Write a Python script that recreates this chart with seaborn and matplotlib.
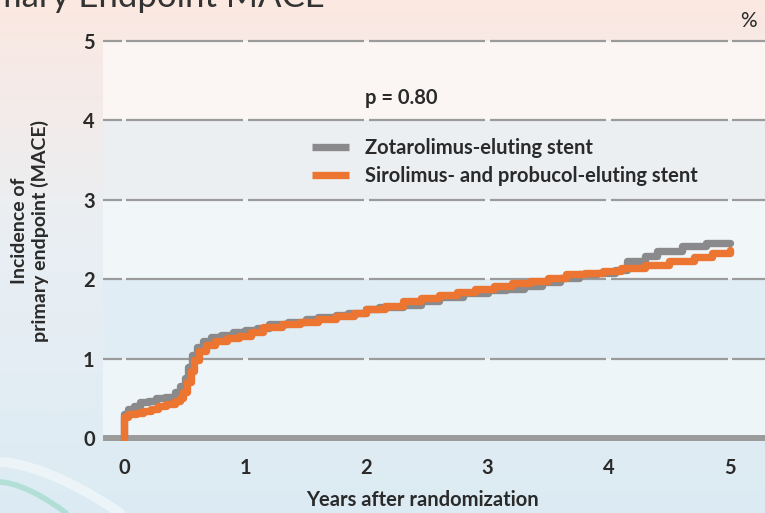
import matplotlib.pyplot as plt
import seaborn as sns
import numpy as np
from matplotlib.lines import Line2D
from matplotlib.colors import to_rgb

# --- DATOS ---
anos_zota = [0, 0, 0.03, 0.08, 0.13, 0.2, 0.26, 0.34, 0.42, 0.46, 0.5, 0.53, 0.56, 0.6,
             0.65, 0.72, 0.8, 0.9, 1.0, 1.1, 1.2, 1.35, 1.5, 1.6, 1.75, 1.85, 2.0, 2.1,
             2.3, 2.45, 2.6, 2.8, 3.0, 3.15, 3.3, 3.45, 3.6, 3.75, 3.9, 4.05, 4.15, 4.3,
             4.4, 4.6, 4.8, 5.0]
mace_zota = [0, 0.30, 0.36, 0.40, 0.45, 0.47, 0.50, 0.52, 0.58, 0.66, 0.76, 0.90, 1.05,
             1.15, 1.22, 1.27, 1.30, 1.33, 1.36, 1.39, 1.43, 1.46, 1.50, 1.52, 1.55, 1.58,
             1.62, 1.65, 1.68, 1.73, 1.77, 1.82, 1.86, 1.88, 1.92, 1.96, 2.02, 2.06, 2.08,
             2.12, 2.23, 2.29, 2.36, 2.42, 2.45, 2.45]

anos_siro = [0, 0, 0.03, 0.1, 0.16, 0.22, 0.28, 0.35, 0.42, 0.46, 0.49, 0.52, 0.55, 0.58,
             0.62, 0.68, 0.75, 0.85, 0.95, 1.05, 1.15, 1.3, 1.45, 1.6, 1.75, 1.9, 2.0, 2.15,
             2.3, 2.45, 2.6, 2.75, 2.9, 3.05, 3.2, 3.35, 3.5, 3.65, 3.8, 3.95, 4.1, 4.3,
             4.5, 4.7, 4.85, 5.0]
mace_siro = [0, 0.26, 0.30, 0.32, 0.34, 0.37, 0.40, 0.43, 0.46, 0.50, 0.58, 0.70, 0.84,
             0.98, 1.10, 1.17, 1.22, 1.26, 1.29, 1.33, 1.40, 1.43, 1.46, 1.50, 1.54, 1.58,
             1.62, 1.66, 1.72, 1.76, 1.80, 1.84, 1.88, 1.92, 1.95, 1.98, 2.02, 2.06, 2.08,
             2.10, 2.14, 2.18, 2.23, 2.28, 2.33, 2.37]

ticks_x = [0, 1, 2, 3, 4, 5]
ticks_y = [0, 1, 2, 3, 4, 5]
etiquetas = ["Zotarolimus-eluting stent", "Sirolimus- and probucol-eluting stent"]

# --- ESTILO ---
GRIS = "#8a8a8c"
NARANJA = "#ec7531"
TEXTO = "#2a2a2a"
REJILLA = "#9b9b9b"
BANDAS = ["#eef5f9", "#e1edf4", "#f1f6f9", "#eceff2", "#fbf6f4"]

sns.set_style("white")
plt.rcParams['font.family'] = ['Lato', 'DejaVu Sans']

W, H = 765, 513
fig = plt.figure(figsize=(W / 100, H / 100), dpi=100)

# fondo degradado (rosa arriba, azul abajo)
bg = fig.add_axes([0, 0, 1, 1], zorder=-10)
pos = [0, 0.45, 1]
cols = np.array([to_rgb(c) for c in ["#fbe8e1", "#eaeff3", "#dcebf3"]])
yy = np.linspace(0, 1, 256)
grad = np.stack([np.interp(yy, pos, cols[:, i]) for i in range(3)], axis=-1)
bg.imshow(grad[:, None, :], aspect='auto', extent=[0, W, H, 0])
xs = np.linspace(0, 120, 50)
bg.plot(xs, 462 + 51 * (xs / 120) ** 1.6, color="#ffffff", lw=7, alpha=0.45)
bg.plot(xs * 0.55, 482 + 31 * (xs / 120) ** 1.6, color="#8fd6bf", lw=4, alpha=0.55)
bg.set_xlim(0, W)
bg.set_ylim(H, 0)
bg.axis('off')

# ejes principales
ax = fig.add_axes([103 / W, 72 / H, 1 - 103 / W, 411 / H])
ax.patch.set_alpha(0)
ax.set_xlim(-21 / 121.2, 641 / 121.2)
ax.set_ylim(-3 / 79.4, 408 / 79.4)

for i, c in enumerate(BANDAS):
    ax.axhspan(i, i + 1, color=c, lw=0, zorder=0)

# rejilla con cortes solo en cada marca del eje x
x0, x1 = ax.get_xlim()
segmentos = [(x0, ticks_x[0] - 0.02)]
segmentos += [(a + 0.02, b - 0.02) for a, b in zip(ticks_x[:-1], ticks_x[1:])]
segmentos += [(ticks_x[-1] + 0.02, x1)]
for yv in ticks_y[1:]:
    for a, b in segmentos:
        ax.hlines(yv, a, b, color=REJILLA, lw=1.6, zorder=1)
ax.axhline(0, color=REJILLA, lw=5, zorder=2)

sns.lineplot(x=anos_zota, y=mace_zota, estimator=None, sort=False, drawstyle='steps-post',
             color=GRIS, lw=5.3, ax=ax, zorder=3)
sns.lineplot(x=anos_siro, y=mace_siro, estimator=None, sort=False, drawstyle='steps-post',
             color=NARANJA, lw=5.3, ax=ax, zorder=4)

sns.despine(ax=ax, left=True, bottom=True)
ax.set_xticks(ticks_x)
ax.set_yticks(ticks_y)
ax.tick_params(axis='x', length=8, width=1.2, color=REJILLA, pad=4, labelsize=14.5,
               labelcolor=TEXTO)
ax.tick_params(axis='y', length=0, pad=6, labelsize=14.5, labelcolor=TEXTO)
for lab in ax.get_xticklabels() + ax.get_yticklabels():
    lab.set_fontweight('bold')

ax.set_xlabel("Years after randomization", fontsize=14.5, weight='bold', color=TEXTO)
ax.xaxis.set_label_coords((422 - 103) / 662, (441 - 500) / 411)
ax.xaxis.label.set_va('center')
ax.set_ylabel("Incidence of\nprimary endpoint (MACE)", fontsize=14, weight='bold',
              color=TEXTO, linespacing=1.2)
ax.yaxis.set_label_coords((30 - 103) / 662, (441 - 231) / 411)
ax.yaxis.label.set_va('center')

# leyenda y textos
manejadores = [Line2D([], [], color=GRIS, lw=5.3, solid_capstyle='butt'),
               Line2D([], [], color=NARANJA, lw=5.3, solid_capstyle='butt')]
ax.legend(manejadores, etiquetas, loc='center left', frameon=False,
          bbox_to_anchor=(312 / W, 1 - 162 / H), bbox_transform=fig.transFigure,
          prop={'weight': 'bold', 'size': 14.5}, borderpad=0, borderaxespad=0,
          handlelength=1.85, handletextpad=0.78, labelspacing=0.4, labelcolor=TEXTO)

fig.text(365 / W, 1 - 98 / H, "p = 0.80", ha='left', va='center', fontsize=14.5,
         weight='bold', color=TEXTO)
fig.text(748 / W, 1 - 21 / H, "%", ha='center', va='center', fontsize=15, color=TEXTO)
fig.text(325 / W, 1 - 7 / H, "Primary Endpoint MACE", ha='right', va='baseline',
         fontsize=25, color="#333333")

fig.savefig("out.png", dpi=100)
